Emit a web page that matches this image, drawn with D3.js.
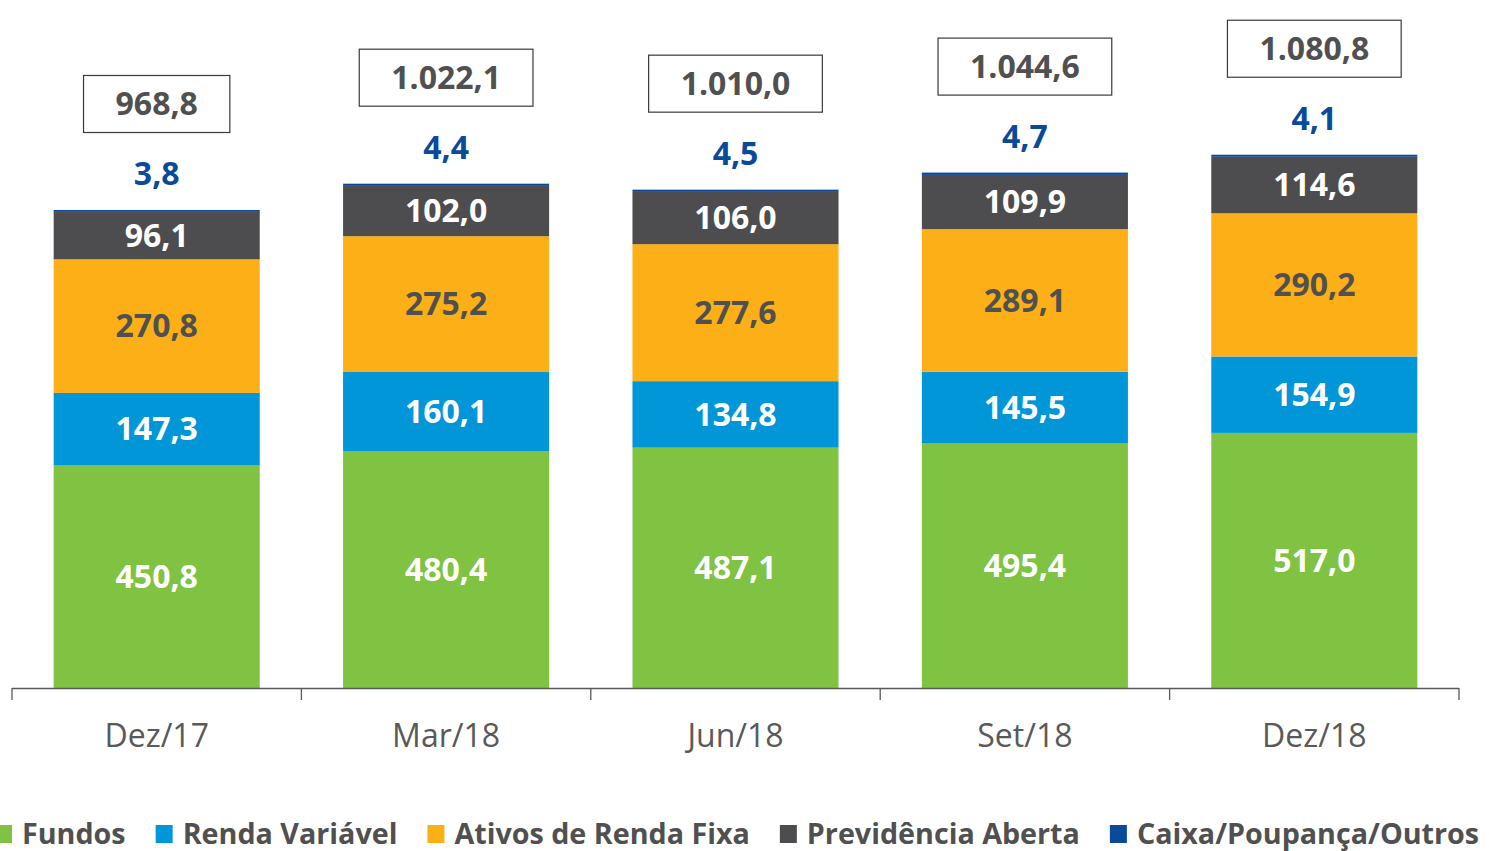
<!DOCTYPE html>
<html>
<head>
<meta charset="utf-8">
<script src="https://cdn.jsdelivr.net/npm/d3@7"></script>
<style>
  body { margin: 0; background: #fff; }
  svg { font-family: "Open Sans", sans-serif; }
</style>
</head>
<body>
<svg width="1489" height="851"></svg>
<script>
var categories = ["Dez/17", "Mar/18", "Jun/18", "Set/18", "Dez/18"];

var fundos = [450.8, 480.4, 487.1, 495.4, 517.0];
var rendaVariavel = [147.3, 160.1, 134.8, 145.5, 154.9];
var rendaFixa = [270.8, 275.2, 277.6, 289.1, 290.2];
var previdencia = [96.1, 102.0, 106.0, 109.9, 114.6];
var caixa = [3.8, 4.4, 4.5, 4.7, 4.1];
var totals = [968.8, 1022.1, 1010.0, 1044.6, 1080.8];

var seriesNames = ["Fundos", "Renda Variável", "Ativos de Renda Fixa", "Previdência Aberta", "Caixa/Poupança/Outros"];

// styles per series
var colors = ["#80c242", "#0096d8", "#fcaf17", "#4d4d4f", "#0a4a9a"];
var labelColors = ["#ffffff", "#ffffff", "#505050", "#ffffff", "#0a4a9a"];

var svg = d3.select("svg");

var baseY = 688,
    axisLeft = 12,
    axisRight = 1459;

var rows = categories.map(function (c, i) {
  return {
    cat: c,
    s0: fundos[i], s1: rendaVariavel[i], s2: rendaFixa[i], s3: previdencia[i], s4: caixa[i],
    total: totals[i]
  };
});

var keys = ["s0", "s1", "s2", "s3", "s4"];
var stack = d3.stack().keys(keys)(rows);

var x = d3.scaleBand()
    .domain(categories)
    .range([axisLeft, axisRight])
    .paddingInner(0.288)
    .paddingOuter(0.144);

var xAxisScale = d3.scaleBand()
    .domain(categories)
    .range([axisLeft, axisRight]);

var y = d3.scaleLinear()
    .domain([0, 1000])
    .range([baseY, baseY - 493.4]);

var fmt = function (v) {
  var s = d3.format(",.1f")(v);
  return s.replace(/,/g, "#").replace(".", ",").replace(/#/g, ".");
};

// bars
var layers = svg.selectAll("g.layer")
  .data(stack)
  .enter().append("g")
    .attr("class", "layer")
    .attr("fill", function (d, i) { return colors[i]; });

layers.selectAll("rect")
  .data(function (d) { return d; })
  .enter().append("rect")
    .attr("x", function (d) { return x(d.data.cat); })
    .attr("width", x.bandwidth())
    .attr("y", function (d) { return y(d[1]); })
    .attr("height", function (d) { return y(d[0]) - y(d[1]); });

// segment labels (first four series)
stack.slice(0, 4).forEach(function (layer, li) {
  svg.selectAll("text.seg" + li)
    .data(layer)
    .enter().append("text")
      .attr("class", "seg" + li)
      .attr("x", function (d) { return x(d.data.cat) + x.bandwidth() / 2; })
      .attr("y", function (d) { return (y(d[0]) + y(d[1])) / 2; })
      .attr("dy", "0.35em")
      .attr("text-anchor", "middle")
      .attr("font-size", 32)
      .attr("font-weight", "bold")
      .attr("fill", labelColors[li])
      .text(function (d) { return fmt(d[1] - d[0]); });
});

// caixa labels above bars
svg.selectAll("text.caixa")
  .data(rows)
  .enter().append("text")
    .attr("class", "caixa")
    .attr("x", function (d) { return x(d.cat) + x.bandwidth() / 2; })
    .attr("y", function (d) { return y(d.total) - 36; })
    .attr("dy", "0.35em")
    .attr("text-anchor", "middle")
    .attr("font-size", 32)
    .attr("font-weight", "bold")
    .attr("fill", labelColors[4])
    .text(function (d) { return fmt(d.s4); });

// total boxes
var boxes = svg.selectAll("g.total")
  .data(rows)
  .enter().append("g")
    .attr("class", "total")
    .attr("transform", function (d) {
      return "translate(" + (x(d.cat) + x.bandwidth() / 2) + "," + (y(d.total) - 106) + ")";
    });

boxes.append("rect")
    .attr("fill", "#fff")
    .attr("stroke", "#3a3a3a")
    .attr("stroke-width", 1.2);

boxes.append("text")
    .attr("text-anchor", "middle")
    .attr("dy", "0.35em")
    .attr("font-size", 32)
    .attr("font-weight", "bold")
    .attr("fill", "#505050")
    .text(function (d) { return fmt(d.total); });

boxes.each(function () {
  var g = d3.select(this);
  var w = g.select("text").node().getComputedTextLength() + 64;
  g.select("rect")
    .attr("x", -w / 2)
    .attr("y", -28.5)
    .attr("width", w)
    .attr("height", 57);
});

// x axis
var axis = svg.append("g").attr("class", "axis");
axis.append("line")
    .attr("x1", axisLeft).attr("x2", axisRight)
    .attr("y1", baseY + 0.5).attr("y2", baseY + 0.5)
    .attr("stroke", "#595959").attr("stroke-width", 1.3);

var tickPos = categories.map(function (c) { return xAxisScale(c); }).concat([axisRight]);
axis.selectAll("line.tick")
  .data(tickPos)
  .enter().append("line")
    .attr("class", "tick")
    .attr("x1", function (d) { return d; })
    .attr("x2", function (d) { return d; })
    .attr("y1", baseY)
    .attr("y2", baseY + 12)
    .attr("stroke", "#595959").attr("stroke-width", 1.3);

axis.selectAll("text")
  .data(categories)
  .enter().append("text")
    .attr("x", function (d) { return xAxisScale(d) + xAxisScale.bandwidth() / 2; })
    .attr("y", 736)
    .attr("dy", "0.35em")
    .attr("text-anchor", "middle")
    .attr("font-size", 32)
    .attr("fill", "#595959")
    .text(function (d) { return d; });

// legend (first swatch is cut off by the left edge, as in the source)
var legend = svg.append("g").attr("class", "legend");
var lx = -5;
seriesNames.forEach(function (name, i) {
  legend.append("rect")
    .attr("x", lx).attr("y", 825)
    .attr("width", 17).attr("height", 18)
    .attr("fill", colors[i]);
  var t = legend.append("text")
    .attr("x", lx + 27).attr("y", 834)
    .attr("dy", "0.35em")
    .attr("font-size", 28.7)
    .attr("font-weight", "bold")
    .attr("fill", "#505050")
    .text(name);
  lx += 27 + t.node().getComputedTextLength() + 30;
});
</script>
</body>
</html>
